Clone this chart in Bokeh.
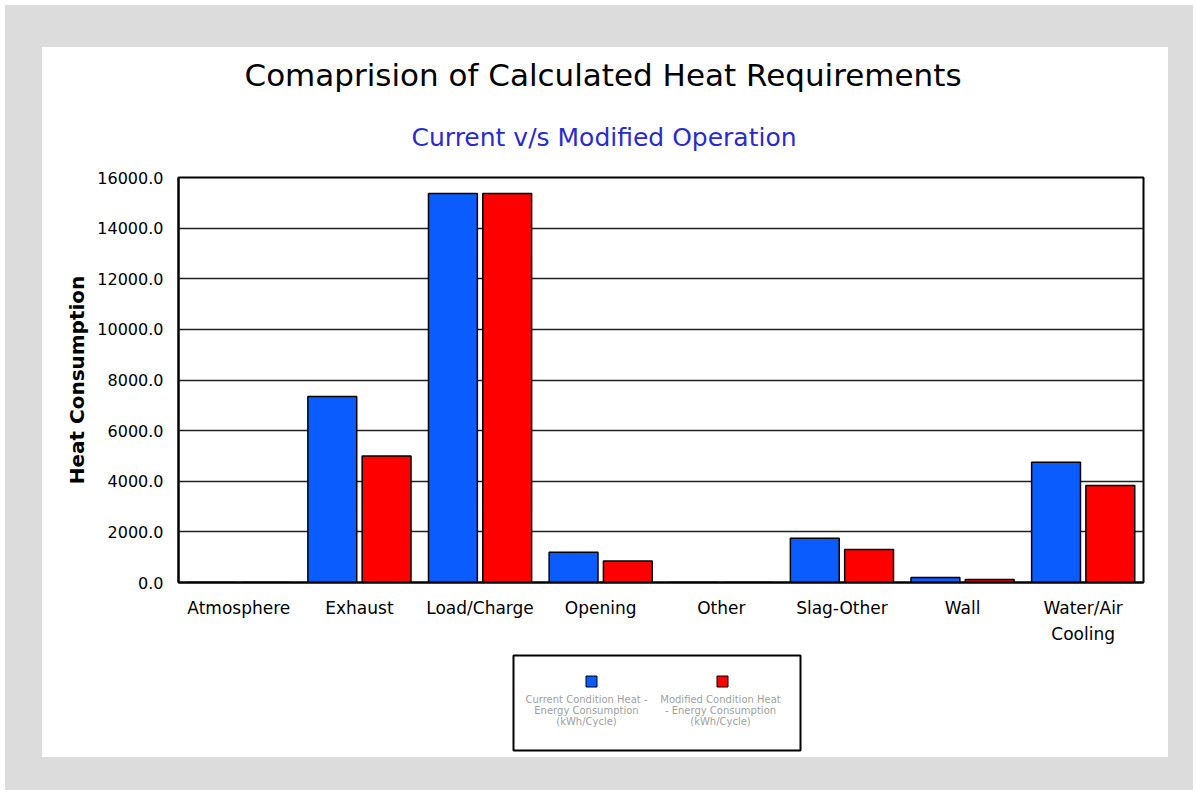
from bokeh.plotting import figure
from bokeh.models import (FactorRange, Range1d, Title,
                          NumeralTickFormatter, FixedTicker, ColumnDataSource)
from bokeh.layouts import column
from bokeh.transform import dodge
from bokeh.core.properties import value
from bokeh.embed import file_html
from bokeh.resources import INLINE

# ---------------- data ----------------
categories = ["Atmosphere", "Exhaust", "Load/Charge", "Opening", "Other",
              "Slag-Other", "Wall", "Water/Air\nCooling"]
current_heat = [0, 7350, 15370, 1200, 0, 1750, 200, 4750]
modified_heat = [0, 5000, 15370, 850, 0, 1300, 120, 3830]
y_ticks = [0, 2000, 4000, 6000, 8000, 10000, 12000, 14000, 16000]
series_labels = ["Current Condition Heat -\nEnergy Consumption\n(kWh/Cycle)",
                 "Modified Condition Heat\n- Energy Consumption\n(kWh/Cycle)"]
title_text = "Comaprision of Calculated Heat Requirements"
subtitle_text = "Current v/s Modified Operation"
y_label = "Heat Consumption"

BLUE = "#0a5cff"
RED = "#ff0000"
FONT = "DejaVu Sans"

# ---------------- layout geometry (page pixels) ----------------
GRAY_L, GRAY_T, GRAY_R, GRAY_B = 5, 5, 1193, 790
PANEL_L, PANEL_T, PANEL_R, PANEL_B = 42, 47, 1168, 757
FRAME_L, FRAME_T, FRAME_R, FRAME_B = 178, 177, 1143, 582
SPLIT = 652  # border between chart part and legend part of the white panel
Y_MAX = y_ticks[-1]
TITLE_LEFT, SUBTITLE_LEFT = 244, 411   # left edges of the centred heading texts

# ---------------- main chart ----------------
p = figure(x_range=FactorRange(*categories, range_padding=0),
           y_range=Range1d(0, Y_MAX),
           width=PANEL_R - PANEL_L, height=SPLIT - PANEL_T,
           output_backend="svg", toolbar_location=None,
           min_border_left=FRAME_L - PANEL_L, min_border_right=PANEL_R - FRAME_R,
           min_border_top=FRAME_T - PANEL_T, min_border_bottom=SPLIT - FRAME_B,
           background_fill_color="white", border_fill_color="white",
           outline_line_color="black", outline_line_width=2)

src = ColumnDataSource(dict(cat=categories, current=current_heat, modified=modified_heat))
p.vbar(x=dodge("cat", -0.225, range=p.x_range), top="current", width=0.405,
       source=src, fill_color=BLUE, line_color="black", line_width=1.5)
p.vbar(x=dodge("cat", 0.225, range=p.x_range), top="modified", width=0.405,
       source=src, fill_color=RED, line_color="black", line_width=1.5)

# titles (first added sits closest to the frame)
p.add_layout(Title(text=subtitle_text, align="left", text_font=FONT,
                   text_font_size="25px", text_font_style="normal",
                   text_color="#2b2bcc", standoff=52,
                   offset=SUBTITLE_LEFT - FRAME_L), "above")
p.add_layout(Title(text=title_text, align="left", text_font=FONT,
                   text_font_size="31px", text_font_style="normal",
                   text_color="black", standoff=3,
                   offset=TITLE_LEFT - FRAME_L), "above")

# axes
p.yaxis.ticker = FixedTicker(ticks=y_ticks)
p.yaxis.formatter = NumeralTickFormatter(format="0.0")
p.yaxis.major_tick_out = 0
p.yaxis.major_tick_in = 0
p.yaxis.minor_tick_line_color = None
p.yaxis.axis_line_width = 2
p.yaxis.major_label_text_font = FONT
p.yaxis.major_label_text_font_size = "16px"
p.yaxis.major_label_text_color = "black"
p.yaxis.major_label_standoff = 15
p.yaxis.axis_label = y_label
p.yaxis.axis_label_text_font = FONT
p.yaxis.axis_label_text_font_style = "bold"
p.yaxis.axis_label_text_font_size = "20px"
p.yaxis.axis_label_text_color = "black"
p.yaxis.axis_label_standoff = 5

p.xaxis.major_tick_out = 0
p.xaxis.major_tick_in = 0
p.xaxis.minor_tick_line_color = None
p.xaxis.axis_line_width = 2
p.xaxis.major_label_text_font = FONT
p.xaxis.major_label_text_font_size = "17px"
p.xaxis.major_label_text_color = "black"
p.xaxis.major_label_standoff = 15
p.xaxis.major_label_text_line_height = 1.3

p.xgrid.grid_line_color = None
p.ygrid.grid_line_color = "#222222"
p.ygrid.grid_line_width = 1.5

# ---------------- legend (icon above text), page-pixel coordinates ----------------
lf = figure(width=PANEL_R - PANEL_L, height=PANEL_B - SPLIT,
            x_range=Range1d(FRAME_L, FRAME_R), y_range=Range1d(PANEL_B, SPLIT),
            output_backend="svg", toolbar_location=None,
            min_border_left=FRAME_L - PANEL_L, min_border_right=PANEL_R - FRAME_R,
            min_border_top=0, min_border_bottom=0,
            background_fill_color="white", border_fill_color="white",
            outline_line_color=None)
lf.axis.visible = False
lf.grid.visible = False

lf.quad(left=[513], right=[800], top=[655], bottom=[750],
        fill_color="white", line_color="black", line_width=2)
lf.scatter(x=[591, 722], y=[681, 681], marker="square", size=11,
           fill_color=[BLUE, RED], line_color="black", line_width=1)
lf.text(x=[586, 720], y=[693, 693], text=series_labels,
        text_align="center", text_baseline="top",
        text_font=value(FONT), text_font_size="10px",
        text_color="#a0a0a0", text_line_height=1.0)

white = column(p, lf, spacing=0, styles={"background-color": "white"})
white.margin = (PANEL_T - GRAY_T, GRAY_R - PANEL_R, GRAY_B - PANEL_B, PANEL_L - GRAY_L)
page = column(white, styles={"background-color": "#dcdcdc"})
page.margin = (GRAY_T, 0, 0, GRAY_L)

open("out.html", "w").write(file_html(page, INLINE))
